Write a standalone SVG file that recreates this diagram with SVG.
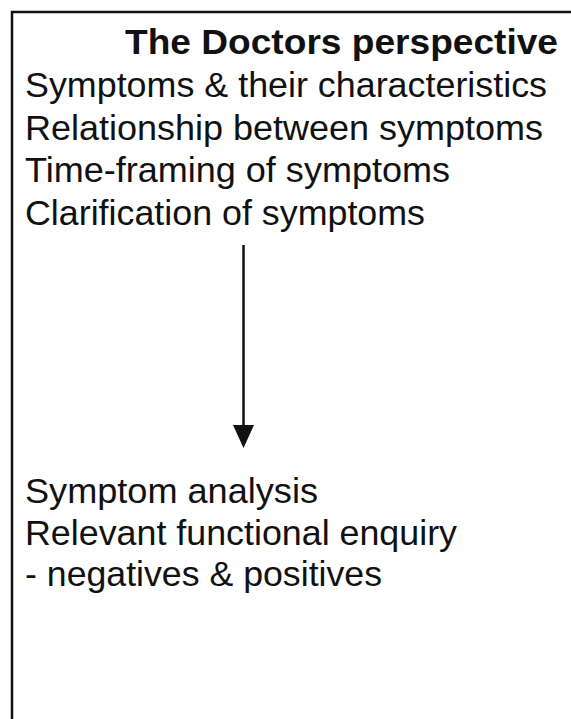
<svg xmlns="http://www.w3.org/2000/svg" width="571" height="719" viewBox="0 0 571 719">
<defs>
<style>
.t{font-family:"Liberation Sans",Arial,sans-serif;font-size:35px;fill:#111;}
.b{font-weight:bold;}
.frame{fill:#fff;stroke:#111;stroke-width:2.5;}
.conn{stroke:#111;stroke-width:2.5;fill:none;}
</style>
</defs>
<rect width="571" height="719" fill="#fff"/>
<g id="frame">
<rect class="frame" x="12" y="12" width="620" height="780"/>
</g>
<g id="node-top">
<text class="t b" x="125" y="54" textLength="433" lengthAdjust="spacingAndGlyphs">The Doctors perspective</text>
<text class="t" x="25" y="97" textLength="522" lengthAdjust="spacingAndGlyphs">Symptoms &amp; their characteristics</text>
<text class="t" x="25" y="140" textLength="518" lengthAdjust="spacingAndGlyphs">Relationship between symptoms</text>
<text class="t" x="25" y="182" textLength="425" lengthAdjust="spacingAndGlyphs">Time-framing of symptoms</text>
<text class="t" x="25" y="225" textLength="400" lengthAdjust="spacingAndGlyphs">Clarification of symptoms</text>
</g>
<g id="node-bottom">
<text class="t" x="25" y="503" textLength="293" lengthAdjust="spacingAndGlyphs">Symptom analysis</text>
<text class="t" x="25" y="545" textLength="432" lengthAdjust="spacingAndGlyphs">Relevant functional enquiry</text>
<text class="t" x="25" y="586" textLength="357" lengthAdjust="spacingAndGlyphs">- negatives &amp; positives</text>
</g>
<g id="connectors">
<line class="conn" x1="243.5" y1="245" x2="243.5" y2="430"/>
<path d="M233,425 L254,425 L243.5,448 z" fill="#111"/>
</g>
</svg>
